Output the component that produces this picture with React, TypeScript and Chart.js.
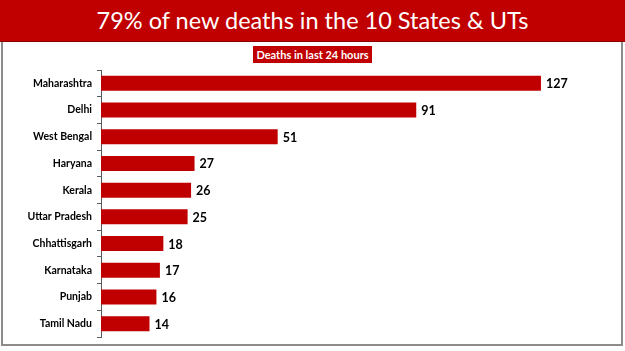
import React, { useEffect, useRef } from "react";
import { Chart, registerables } from "chart.js";

Chart.register(...registerables);

const titleText = "79% of new deaths in the 10 States & UTs";
const subtitleText = "Deaths in last 24 hours";
const states = [
  "Maharashtra",
  "Delhi",
  "West Bengal",
  "Haryana",
  "Kerala",
  "Uttar Pradesh",
  "Chhattisgarh",
  "Karnataka",
  "Punjab",
  "Tamil Nadu",
];
const deaths = [127, 91, 51, 27, 26, 25, 18, 17, 16, 14];

const RED = "#c00000";

const valueLabels = {
  id: "valueLabels",
  afterDatasetsDraw(chart: any) {
    const ctx = chart.ctx;
    const meta = chart.getDatasetMeta(0);
    ctx.save();
    ctx.font = "bold 12.5px Lato, 'Open Sans', sans-serif";
    ctx.fillStyle = "#000";
    ctx.textAlign = "left";
    ctx.textBaseline = "middle";
    meta.data.forEach((bar: any, i: number) => {
      ctx.fillText(String(chart.data.datasets[0].data[i]), bar.x + 5, bar.y + 1);
    });
    ctx.restore();
  },
};

export default function App() {
  const ref = useRef<HTMLCanvasElement | null>(null);
  useEffect(() => {
    document.body.style.margin = "0";
    const chart = new Chart(ref.current as HTMLCanvasElement, {
      type: "bar",
      data: {
        labels: states,
        datasets: [
          {
            data: deaths,
            backgroundColor: RED,
            borderWidth: 0,
            barPercentage: 0.56,
            categoryPercentage: 1,
          },
        ],
      },
      plugins: [valueLabels],
      options: {
        indexAxis: "y",
        animation: false,
        responsive: false,
        maintainAspectRatio: false,
        layout: { padding: { top: 70, bottom: 14, left: 0, right: 39 } },
        plugins: { legend: { display: false }, tooltip: { enabled: false } },
        scales: {
          x: { display: false, min: 0, max: 140 },
          y: {
            afterFit(scale: any) {
              scale.width = 101;
            },
            grid: {
              offset: true,
              drawOnChartArea: false,
              tickLength: 4,
              color: "#595959",
            },
            border: { color: "#595959", width: 1 },
            ticks: {
              padding: 5,
              color: "#000",
              font: { family: "Lato, 'Open Sans', sans-serif", size: 10.5, weight: "bold" },
            },
          },
        },
      },
    } as any);
    return () => chart.destroy();
  }, []);

  return (
    <div style={{ position: "fixed", left: 0, top: 0, width: 625, height: 351, background: "#fff", overflow: "hidden" }}>
      <canvas ref={ref} width={625} height={351} style={{ position: "absolute", left: 0, top: 0 }} />
      <div
        style={{
          position: "absolute",
          left: 0,
          top: 0,
          width: 625,
          height: 42,
          background: RED,
          borderBottom: "1px solid #8a0000",
          boxSizing: "border-box",
          color: "#fff",
          fontFamily: "Lato, 'Open Sans', sans-serif",
          fontSize: 23.5,
          lineHeight: "41px",
          textAlign: "center",
        }}
      >
        {titleText}
      </div>
      <div
        style={{
          position: "absolute",
          left: 1,
          top: 42,
          width: 622,
          height: 304,
          borderLeft: "2px solid #8c8c8c",
          borderRight: "2px solid #8c8c8c",
          borderBottom: "2px solid #8c8c8c",
          boxSizing: "border-box",
          pointerEvents: "none",
        }}
      />
      <div
        style={{
          position: "absolute",
          left: 253,
          top: 46,
          width: 119,
          height: 17,
          background: RED,
          color: "#fff",
          fontFamily: "Lato, 'Open Sans', sans-serif",
          fontWeight: "bold",
          fontSize: 11,
          lineHeight: "17px",
          textAlign: "center",
          whiteSpace: "nowrap",
        }}
      >
        {subtitleText}
      </div>
    </div>
  );
}
